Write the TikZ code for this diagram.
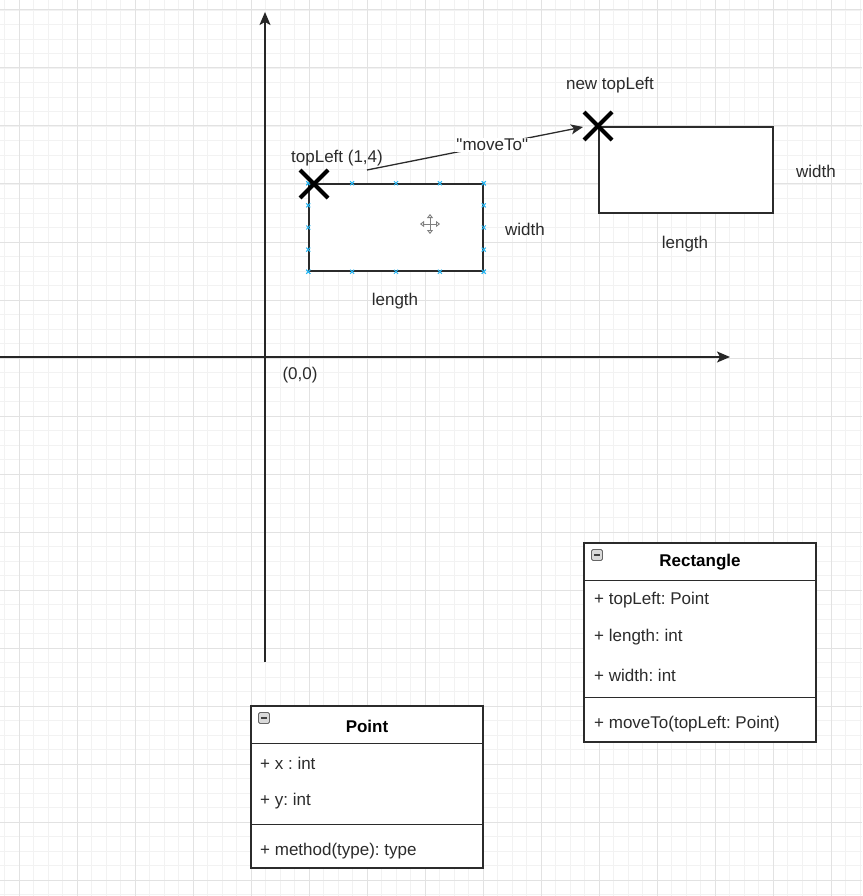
\documentclass[tikz,border=0pt]{standalone}
\usepackage{fontspec}
\setmainfont{Liberation Sans}
\usetikzlibrary{arrows.meta,calc}
\definecolor{gminor}{HTML}{F2F2F2}
\definecolor{gmajor}{HTML}{E2E2E2}
\definecolor{ink}{HTML}{2B2B2B}
\definecolor{sel}{HTML}{29B6F2}
\frenchspacing
\begin{document}
\begin{tikzpicture}[x=1pt,y=-1pt,
  every node/.style={font=\fontsize{17}{20}\selectfont\frenchspacing, text=ink},
  minorgrid/.style={gminor, line width=0.8pt},
  majorgrid/.style={gmajor, line width=1pt},
  axis/.style={black!85, line width=1.5pt, -{Stealth[length=13pt,width=11pt,inset=3pt]}},
  shapebox/.style={draw=ink, line width=1.5pt, fill=white, inner sep=0pt},
  crossline/.style={black, line width=4pt},
  movearr/.style={ink, line width=1.3pt, -{Stealth[length=12pt,width=10pt,inset=3pt]}},
  clsbox/.style={draw=ink, line width=1.4pt, fill=white, inner sep=0pt},
  clsline/.style={ink, line width=1.4pt},
  clstitle/.style={font=\fontsize{17}{20}\selectfont\bfseries, text=black},
  attr/.style={anchor=west, inner sep=0pt},
  minusbox/.style={draw=gray!80!black, fill=gray!30, rounded corners=1.5pt, minimum size=11pt, inner sep=0pt, line width=0.8pt},
  handle/.style={sel, line width=0.9pt}
]
\useasboundingbox[fill=white] (0,0) rectangle (862,896);
% grid
\foreach \i in {0,...,59} {\draw[minorgrid] (4.5+14.5*\i,0) -- (4.5+14.5*\i,896);}
\foreach \i in {0,...,61} {\draw[minorgrid] (0,10+14.5*\i) -- (862,10+14.5*\i);}
\foreach \i in {0,...,14} {\draw[majorgrid] (19+58*\i,0) -- (19+58*\i,896);}
\foreach \i in {0,...,15} {\draw[majorgrid] (0,10+58*\i) -- (862,10+58*\i);}

% axes
\coordinate (yb) at (265,662);
\coordinate (yt) at (265,12);
\coordinate (xl) at (0,357);
\coordinate (xr) at (730,357);
\draw[axis] (yb) -- (yt);
\draw[axis] (xl) -- (xr);
\node (origin) at (300,375) {(0,0)};

% original rectangle
\node[shapebox, minimum width=174pt, minimum height=87pt] (r1) at (396,227.5) {};
\foreach \t in {0,0.25,0.5,0.75,1} {
  \draw[handle] ($(r1.north west)!\t!(r1.north east)+(-2,-2)$) -- ++(4,4) ++(-4,0) -- ++(4,-4);
  \draw[handle] ($(r1.south west)!\t!(r1.south east)+(-2,-2)$) -- ++(4,4) ++(-4,0) -- ++(4,-4);
  \draw[handle] ($(r1.north west)!\t!(r1.south west)+(-2,-2)$) -- ++(4,4) ++(-4,0) -- ++(4,-4);
  \draw[handle] ($(r1.north east)!\t!(r1.south east)+(-2,-2)$) -- ++(4,4) ++(-4,0) -- ++(4,-4);
}
% move cursor icon
\coordinate (cur) at (430,224);
\draw[gray, line width=0.9pt, {Triangle[open,length=4pt,width=6pt]}-{Triangle[open,length=4pt,width=6pt]}] ([xshift=-10pt]cur) -- ([xshift=10pt]cur);
\draw[gray, line width=0.9pt, {Triangle[open,length=4pt,width=6pt]}-{Triangle[open,length=4pt,width=6pt]}] ([yshift=-10pt]cur) -- ([yshift=10pt]cur);

\coordinate (x1) at (314,184);
\draw[crossline] ([shift={(-14,-14)}]x1) -- ([shift={(14,14)}]x1);
\draw[crossline] ([shift={(-14,14)}]x1) -- ([shift={(14,-14)}]x1);
\node (tl1) at (337,158) {topLeft (1,4)};
\node (w1) at (525,229) {width};
\node (l1) at (395,301) {length};

% moved rectangle
\node[shapebox, minimum width=174pt, minimum height=86pt] (r2) at (686,170) {};
\coordinate (x2) at (598,126);
\draw[crossline] ([shift={(-14,-14)}]x2) -- ([shift={(14,14)}]x2);
\draw[crossline] ([shift={(-14,14)}]x2) -- ([shift={(14,-14)}]x2);
\node (ntl) at (610,85) {new topLeft};
\node (w2) at (816,171) {width};
\node (l2) at (685,244) {length};

% moveTo arrow
\coordinate (ms) at (367,170);
\coordinate (me) at (583,127);
\draw[movearr] (ms) -- node[pos=0.58, fill=white, inner sep=1.5pt] (mvl) {\textquotedbl moveTo\textquotedbl} (me);

% Rectangle class
\node[clsbox, minimum width=232pt, minimum height=199pt] (rc) at (700,642.5) {};
\draw[clsline] ([yshift=-38pt]rc.north west) -- ([yshift=-38pt]rc.north east);
\draw[clsline] ([yshift=-155pt]rc.north west) -- ([yshift=-155pt]rc.north east);
\node[minusbox] (rcm) at (597,555) {};
\draw[gray!50!black, line width=1.2pt] ([xshift=-3pt]rcm.center) -- ([xshift=3pt]rcm.center);
\node[clstitle] (rct) at (700,562) {Rectangle};
\node[attr] (ra1) at (594,600) {+ topLeft: Point};
\node[attr] (ra2) at (594,637) {+ length: int};
\node[attr] (ra3) at (594,675) {+ width: int};
\node[attr] (rm1) at (594,724) {+ moveTo(topLeft: Point)};

% Point class
\node[clsbox, minimum width=232pt, minimum height=162pt] (pc) at (367,787) {};
\draw[clsline] ([yshift=-38pt]pc.north west) -- ([yshift=-38pt]pc.north east);
\draw[clsline] ([yshift=-119pt]pc.north west) -- ([yshift=-119pt]pc.north east);
\node[minusbox] (pcm) at (264,718) {};
\draw[gray!50!black, line width=1.2pt] ([xshift=-3pt]pcm.center) -- ([xshift=3pt]pcm.center);
\node[clstitle] (pct) at (367,726) {Point};
\node[attr] (pa1) at (260,763) {+ x : int};
\node[attr] (pa2) at (260,801) {+ y: int};
\node[attr] (pm1) at (260,851) {+ method(type): type};
\end{tikzpicture}
\end{document}
